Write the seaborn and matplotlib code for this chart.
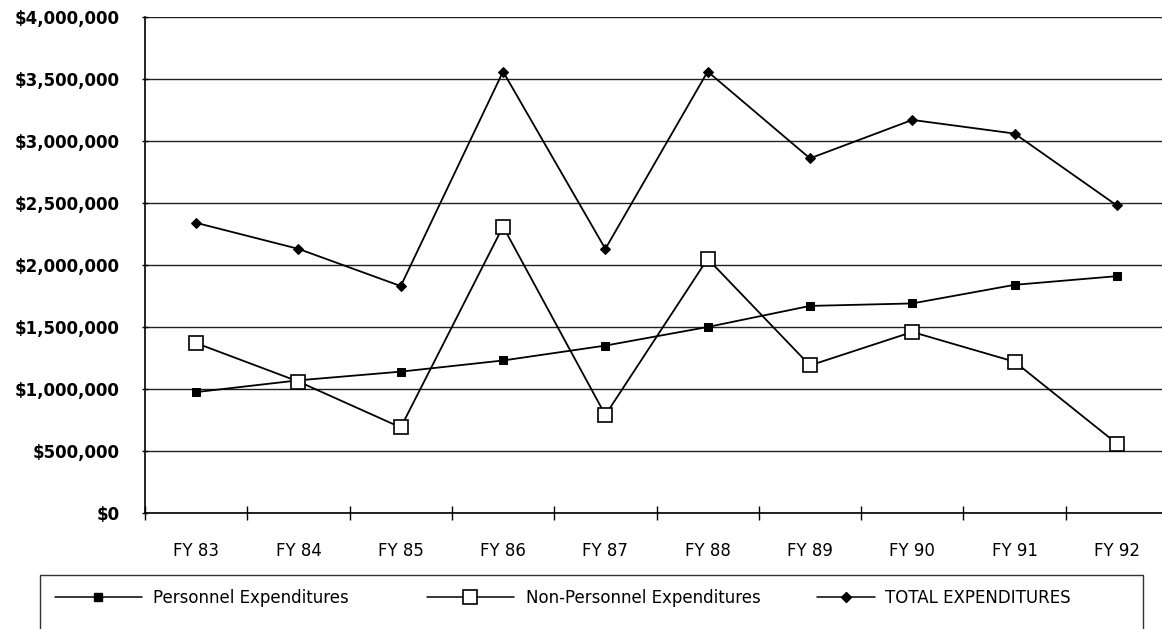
import matplotlib
matplotlib.use("Agg")
import matplotlib.pyplot as plt
import matplotlib.patches as mpatches
from matplotlib.lines import Line2D
from matplotlib.ticker import FuncFormatter, FixedLocator
import seaborn as sns
import pandas as pd
import numpy as np

years = ["FY 83", "FY 84", "FY 85", "FY 86", "FY 87", "FY 88", "FY 89", "FY 90", "FY 91", "FY 92"]
personnel = [975000, 1070000, 1140000, 1230000, 1350000, 1500000, 1670000, 1690000, 1840000, 1910000]
non_personnel = [1370000, 1060000, 690000, 2310000, 790000, 2050000, 1190000, 1460000, 1220000, 560000]
total = [2340000, 2130000, 1830000, 3560000, 2130000, 3560000, 2860000, 3170000, 3060000, 2480000]
series_names = ["Personnel Expenditures", "Non-Personnel Expenditures", "TOTAL EXPENDITURES"]
y_ticks = [0, 500000, 1000000, 1500000, 2000000, 2500000, 3000000, 3500000, 4000000]

sns.set_theme(style="white")
plt.rcParams['font.family'] = ['DejaVu Sans']
plt.rcParams['text.color'] = 'black'
plt.rcParams['xtick.color'] = 'black'
plt.rcParams['ytick.color'] = 'black'
plt.rcParams['axes.labelcolor'] = 'black'

W, H = 1162, 629
fig = plt.figure(figsize=(W / 100, H / 100), dpi=100)
ax = fig.add_axes([145 / W, 1 - 513 / H, (1168 - 145) / W, (513 - 17) / H])

pos = np.arange(len(years))
df = pd.DataFrame({"pos": np.tile(pos, 3),
                   "value": personnel + non_personnel + total,
                   "series": np.repeat(series_names, len(years))})

styles = {
    series_names[0]: dict(marker="s", markersize=6, markerfacecolor="black", markeredgecolor="black"),
    series_names[1]: dict(marker="s", markersize=10, markerfacecolor="white", markeredgecolor="black", markeredgewidth=1.2),
    series_names[2]: dict(marker="D", markersize=5, markerfacecolor="black", markeredgecolor="black"),
}
for name in series_names:
    sub = df[df.series == name]
    sns.lineplot(data=sub, x="pos", y="value", ax=ax, color="black", linewidth=1.3,
                 legend=False, **styles[name])

ax.set_xlim(-0.5, 9.5)
ax.set_ylim(0, 4000000)
ax.set_yticks(y_ticks)
ax.yaxis.set_major_formatter(FuncFormatter(lambda v, p: "${:,.0f}".format(v)))
ax.grid(axis="y", color="#222222", linewidth=1.0)
ax.grid(axis="x", visible=False)
ax.set_axisbelow(True)

ax.xaxis.set_major_locator(FixedLocator(np.arange(-0.5, 10, 1.0)))
ax.xaxis.set_major_formatter(FuncFormatter(lambda v, p: ""))
ax.xaxis.set_minor_locator(FixedLocator(pos))
ax.set_xticks(pos, minor=True)
ax.set_xticklabels(years, minor=True)
ax.tick_params(axis="x", which="major", direction="inout", length=10, width=1, color="black", bottom=True)
ax.tick_params(axis="x", which="minor", length=0, pad=21, labelsize=12, labelcolor="black")
ax.tick_params(axis="y", which="major", direction="inout", length=5, width=1, color="black", left=True,
               pad=16, labelsize=12, labelcolor="black")
for lbl in ax.get_yticklabels():
    lbl.set_fontweight("bold")

ax.set_xlabel("")
ax.set_ylabel("")
for s in ["top", "right"]:
    ax.spines[s].set_visible(False)
for s in ["left", "bottom"]:
    ax.spines[s].set_color("black")
    ax.spines[s].set_linewidth(1.2)

# legend frame (bottom edge cut off as in the scan)
rect = mpatches.Rectangle((40 / W, -0.05), (1143 - 40) / W, 1 - 575 / H + 0.05,
                          transform=fig.transFigure, fill=False, edgecolor="#333333", linewidth=1.0)
fig.patches.append(rect)

entry_x = [55, 427, 817]
handle_len = [5.2, 5.2, 3.5]
text_pad = [0.66, 0.72, 0.6]
for name, x0, hl, tp in zip(series_names, entry_x, handle_len, text_pad):
    h = Line2D([], [], color="black", linewidth=1.1, **styles[name])
    leg = fig.legend([h], [name], loc="center left", bbox_to_anchor=(x0 / W, 1 - 598 / H),
                     frameon=False, fontsize=12, handlelength=hl, handletextpad=tp,
                     borderpad=0, borderaxespad=0, labelcolor="black")

fig.savefig("out.png", dpi=100)
